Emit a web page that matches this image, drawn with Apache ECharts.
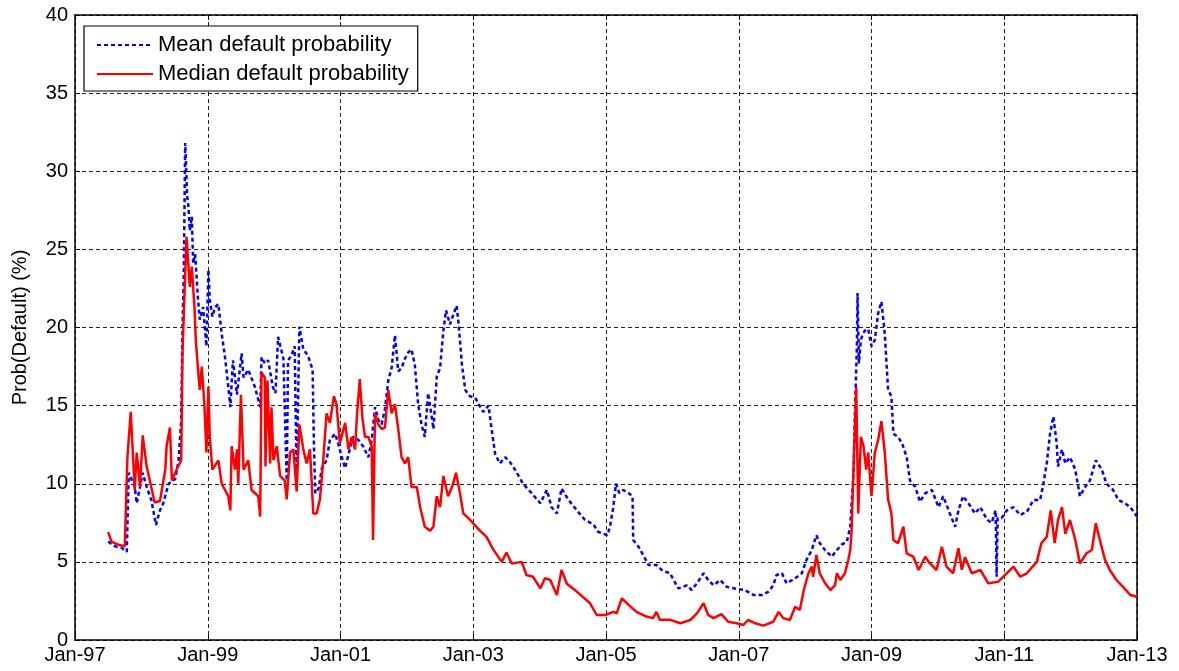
<!DOCTYPE html>
<html>
<head>
<meta charset="utf-8">
<script src="https://cdn.jsdelivr.net/npm/echarts@6/dist/echarts.min.js"></script>
<style>
html,body{margin:0;padding:0;background:#fff;}
#chart{width:1179px;height:671px;}
</style>
</head>
<body>
<div id="chart"></div>
<script>
// x values are decimal years
const xTicks = [1997, 1999, 2001, 2003, 2005, 2007, 2009, 2011, 2013];
const yTicks = [0, 5, 10, 15, 20, 25, 30, 35, 40];
const seriesNames = ['Mean default probability', 'Median default probability'];

const meanYears = [
  1997.50,1997.60,1997.70,1997.78,1997.81,1997.90,1997.93,1997.98,1998.02,1998.08,
  1998.15,1998.22,1998.28,1998.33,1998.41,1998.51,1998.56,1998.60,1998.62,1998.64,
  1998.66,1998.69,1998.71,1998.73,1998.76,1998.78,1998.81,1998.85,1998.88,1998.93,
  1998.98,1999.01,1999.03,1999.07,1999.11,1999.16,1999.21,1999.26,1999.31,1999.34,
  1999.38,1999.44,1999.51,1999.54,1999.61,1999.71,1999.79,1999.81,1999.86,1999.91,
  1999.98,2000.02,2000.06,2000.14,2000.19,2000.21,2000.26,2000.31,2000.34,2000.38,
  2000.44,2000.51,2000.58,2000.60,2000.62,2000.67,2000.72,2000.79,2000.84,2000.92,
  2000.97,2001.02,2001.07,2001.14,2001.19,2001.27,2001.34,2001.42,2001.47,2001.52,
  2001.57,2001.62,2001.67,2001.72,2001.77,2001.82,2001.87,2001.92,2001.97,2002.02,
  2002.07,2002.12,2002.17,2002.22,2002.27,2002.32,2002.37,2002.40,2002.45,2002.50,
  2002.55,2002.59,2002.65,2002.69,2002.75,2002.78,2002.83,2002.88,2002.95,2003.03,
  2003.08,2003.15,2003.23,2003.28,2003.33,2003.40,2003.48,2003.55,2003.63,2003.75,
  2003.88,2004.01,2004.11,2004.18,2004.26,2004.33,2004.43,2004.56,2004.68,2004.81,
  2004.88,2005.02,2005.06,2005.11,2005.15,2005.20,2005.26,2005.34,2005.40,2005.41,
  2005.49,2005.56,2005.64,2005.76,2005.86,2005.96,2006.09,2006.22,2006.29,2006.37,
  2006.47,2006.54,2006.62,2006.72,2006.82,2006.94,2007.09,2007.22,2007.35,2007.45,
  2007.52,2007.57,2007.65,2007.72,2007.85,2007.95,2008.02,2008.10,2008.17,2008.22,
  2008.30,2008.40,2008.48,2008.55,2008.63,2008.68,2008.70,2008.73,2008.75,2008.78,
  2008.79,2008.81,2008.84,2008.87,2008.90,2008.95,2009.00,2009.05,2009.10,2009.15,
  2009.20,2009.25,2009.30,2009.33,2009.40,2009.46,2009.53,2009.58,2009.66,2009.73,
  2009.81,2009.91,2010.01,2010.08,2010.18,2010.26,2010.31,2010.38,2010.46,2010.56,
  2010.64,2010.74,2010.81,2010.87,2010.885,2010.90,2010.96,2011.04,2011.14,2011.24,
  2011.34,2011.44,2011.54,2011.59,2011.64,2011.69,2011.74,2011.79,2011.81,2011.87,
  2011.92,2011.99,2012.07,2012.14,2012.22,2012.29,2012.38,2012.47,2012.54,2012.64,
  2012.72,2012.82,2012.90,2013.00
];
const meanValues = [
  6.3,6.0,5.9,5.65,10.7,9.8,8.75,9.8,10.7,9.8,
  8.96,7.36,8.3,8.75,10.0,10.3,11.5,14.1,20.05,23.7,
  31.8,28.4,27.7,26.2,27.1,24.1,24.7,22.0,20.5,21.3,
  18.8,23.7,21.8,20.7,21.3,21.5,19.6,18.1,16.2,14.9,
  17.9,15.7,18.35,16.8,17.3,16.2,14.9,18.1,17.7,17.9,
  16.2,15.8,19.4,18.0,10.2,17.9,18.2,18.8,10.2,20.05,
  18.6,18.2,17.3,12.4,9.4,9.7,11.0,11.5,12.8,13.2,
  12.5,11.7,11.0,12.2,13.0,12.8,12.4,11.7,12.8,14.9,
  14.1,13.8,14.8,16.6,17.4,19.5,17.2,17.4,18.0,18.4,
  18.6,17.6,15.1,13.8,13.0,15.8,14.4,13.5,16.85,17.4,
  19.8,21.1,20.2,20.7,21.4,20.2,17.6,16.0,15.6,15.5,
  15.1,14.6,15.0,13.4,11.9,11.3,11.7,11.4,10.9,10.0,
  9.4,8.75,9.6,8.5,8.1,9.7,9.0,8.3,7.7,7.4,
  6.93,6.7,7.25,8.5,10.0,9.4,9.6,9.4,9.2,6.4,
  5.97,5.44,4.8,4.8,4.4,4.3,3.3,3.5,3.2,3.63,
  4.27,3.84,3.5,3.84,3.4,3.3,3.2,2.88,2.88,3.1,
  3.5,4.16,4.27,3.63,3.95,4.27,5.12,5.76,6.7,6.2,
  5.76,5.33,5.76,6.1,6.3,7.25,8.75,10.7,14.5,18.8,
  22.2,17.7,19.2,19.6,19.8,19.9,18.8,19.2,20.9,21.65,
  19.6,16.0,15.6,13.2,13.0,12.6,11.7,10.2,9.8,8.85,
  9.4,9.6,8.5,9.2,8.1,7.25,8.3,9.2,8.75,8.1,
  8.5,7.7,7.5,8.3,4.05,7.8,7.8,8.3,8.5,8.0,
  8.2,8.96,8.96,10.0,11.3,13.2,14.3,12.6,11.1,12.2,
  11.3,11.7,10.9,9.2,9.8,10.2,11.5,10.9,10.0,9.6,
  8.96,8.75,8.5,7.9
];

const medianYears = [
  1997.50,1997.55,1997.65,1997.75,1997.78,1997.79,1997.84,1997.90,1997.93,1997.98,
  1998.02,1998.08,1998.20,1998.28,1998.36,1998.38,1998.43,1998.46,1998.53,1998.60,
  1998.62,1998.65,1998.68,1998.73,1998.76,1998.80,1998.82,1998.85,1998.88,1998.91,
  1998.95,1998.98,1999.01,1999.03,1999.07,1999.16,1999.21,1999.31,1999.34,1999.36,
  1999.41,1999.44,1999.46,1999.50,1999.54,1999.61,1999.66,1999.76,1999.79,1999.81,
  1999.86,1999.87,1999.90,1999.94,1999.96,1999.99,2000.04,2000.09,2000.16,2000.19,
  2000.24,2000.29,2000.34,2000.38,2000.44,2000.49,2000.54,2000.59,2000.64,2000.69,
  2000.74,2000.79,2000.84,2000.90,2000.94,2000.99,2001.07,2001.12,2001.17,2001.22,
  2001.25,2001.29,2001.33,2001.37,2001.42,2001.47,2001.49,2001.52,2001.57,2001.62,
  2001.67,2001.72,2001.77,2001.82,2001.87,2001.92,2001.97,2002.02,2002.07,2002.15,
  2002.20,2002.27,2002.35,2002.40,2002.45,2002.50,2002.55,2002.62,2002.69,2002.74,
  2002.80,2002.85,2002.95,2002.98,2003.10,2003.20,2003.30,2003.43,2003.50,2003.58,
  2003.73,2003.80,2003.90,2004.01,2004.08,2004.16,2004.26,2004.33,2004.41,2004.56,
  2004.76,2004.86,2004.99,2005.11,2005.16,2005.24,2005.34,2005.46,2005.61,2005.71,
  2005.76,2005.81,2005.96,2006.12,2006.27,2006.37,2006.47,2006.54,2006.62,2006.74,
  2006.84,2006.97,2007.07,2007.14,2007.25,2007.37,2007.52,2007.60,2007.67,2007.77,
  2007.85,2007.92,2007.98,2008.05,2008.10,2008.12,2008.17,2008.22,2008.30,2008.38,
  2008.45,2008.48,2008.53,2008.60,2008.65,2008.68,2008.70,2008.73,2008.77,2008.80,
  2008.84,2008.88,2008.92,2008.95,2009.00,2009.05,2009.10,2009.15,2009.20,2009.25,
  2009.30,2009.33,2009.40,2009.48,2009.53,2009.63,2009.71,2009.81,2009.88,2009.98,
  2010.06,2010.13,2010.23,2010.31,2010.36,2010.41,2010.51,2010.64,2010.76,2010.91,
  2011.14,2011.24,2011.34,2011.49,2011.56,2011.64,2011.70,2011.76,2011.81,2011.87,
  2011.92,2011.99,2012.07,2012.14,2012.24,2012.32,2012.38,2012.44,2012.52,2012.59,
  2012.69,2012.79,2012.90,2013.00
];
const medianValues = [
  6.9,6.3,6.1,6.0,5.9,11.7,14.6,9.6,12.0,9.8,
  13.1,11.1,8.8,8.9,10.9,12.4,13.6,10.2,10.9,11.5,
  18.4,22.2,25.8,22.6,23.9,21.3,19.2,17.5,16.0,17.5,
  15.0,12.0,16.2,13.0,10.9,11.5,10.0,9.2,8.3,12.4,
  10.9,12.2,10.0,15.7,10.9,11.5,9.6,9.2,7.9,17.1,
  16.8,11.1,16.6,11.3,14.9,11.5,12.4,10.5,10.2,9.0,
  12.0,12.2,9.5,13.8,12.2,11.3,12.2,8.1,8.1,9.0,
  11.5,14.5,13.9,15.6,15.1,12.6,13.9,12.2,13.0,12.2,
  14.5,16.7,14.2,13.0,13.0,12.4,6.4,14.5,13.8,13.5,
  13.6,16.0,14.5,15.1,13.5,11.7,11.3,11.7,9.8,9.8,
  8.5,7.25,7.0,7.25,9.2,8.5,10.5,9.2,9.9,10.7,
  9.4,8.1,7.7,7.7,7.0,6.6,5.8,5.0,5.6,4.9,
  5.0,4.16,4.05,3.3,3.95,3.84,2.88,4.48,3.6,3.1,
  2.35,1.6,1.6,1.8,1.7,2.67,2.25,1.8,1.5,1.4,
  1.8,1.3,1.3,1.07,1.28,1.7,2.35,1.6,1.4,1.66,
  1.17,1.07,0.96,1.28,1.07,0.92,1.17,1.8,1.4,1.28,
  2.13,1.92,3.2,4.27,4.7,4.05,5.44,4.27,3.63,3.2,
  3.5,4.27,3.84,4.27,5.12,5.76,7.0,11.1,16.2,8.1,
  13.0,12.4,10.9,12.0,9.2,12.0,12.8,14.0,12.0,9.0,
  8.1,6.4,6.2,7.25,5.55,5.33,4.48,5.33,4.9,4.48,
  5.97,4.7,4.27,5.87,4.5,5.3,4.27,4.48,3.63,3.73,
  4.7,4.05,4.27,5.0,6.2,6.6,8.3,6.2,7.68,8.5,
  6.8,7.68,6.4,4.9,5.55,5.76,7.47,6.4,5.1,4.48,
  3.84,3.4,2.88,2.77
];

function zip(xs, ys) { return xs.map((x, i) => [x, ys[i]]); }

const FONT = 'Liberation Sans, Arial, sans-serif';
const chart = echarts.init(document.getElementById('chart'), null, {renderer: 'canvas'});

const gridLine = {show: true, lineStyle: {color: '#222', type: [4, 3], width: 1}};
const axisLine = {show: true, onZero: false, lineStyle: {color: '#000', width: 1.5}};
const tick = {show: true, inside: true, length: 5, lineStyle: {color: '#000', width: 1}};

chart.setOption({
  animation: false,
  backgroundColor: '#fff',
  grid: {left: 75, right: 42, top: 15, bottom: 31, containLabel: false},
  legend: {
    data: seriesNames,
    orient: 'vertical',
    left: 84, top: 26,
    padding: [8, 9, 6, 12],
    itemWidth: 56, itemHeight: 14, itemGap: 7,
    backgroundColor: '#fff',
    borderColor: '#000', borderWidth: 1.2, borderRadius: 0,
    itemStyle: {opacity: 0},
    textStyle: {fontFamily: FONT, fontSize: 22, color: '#000', lineHeight: 22}
  },
  xAxis: [{
    type: 'value', min: xTicks[0], max: xTicks[xTicks.length - 1], interval: 2,
    axisLine: axisLine, axisTick: tick, splitLine: gridLine,
    axisLabel: {fontFamily: FONT, fontSize: 20, color: '#000', margin: 5,
      formatter: v => 'Jan-' + String(v).slice(2)}
  }, {
    type: 'value', position: 'top', min: xTicks[0], max: xTicks[xTicks.length - 1], interval: 2,
    axisLine: axisLine, axisTick: tick, splitLine: {show: false}, axisLabel: {show: false}
  }],
  yAxis: [{
    type: 'value', min: yTicks[0], max: yTicks[yTicks.length - 1], interval: 5,
    name: 'Prob(Default) (%)', nameLocation: 'middle', nameGap: 45,
    nameTextStyle: {fontFamily: FONT, fontSize: 20, color: '#000'},
    axisLine: axisLine, axisTick: tick, splitLine: gridLine,
    axisLabel: {fontFamily: FONT, fontSize: 20, color: '#000', margin: 7}
  }, {
    type: 'value', position: 'right', min: yTicks[0], max: yTicks[yTicks.length - 1], interval: 5,
    axisLine: axisLine, axisTick: tick, splitLine: {show: false}, axisLabel: {show: false}
  }],
  series: [{
    name: seriesNames[0], type: 'line', symbol: 'none', showSymbol: false,
    data: zip(meanYears, meanValues),
    lineStyle: {color: '#0000ff', width: 2.5, type: [4, 3]},
    itemStyle: {color: '#0000ff'}
  }, {
    name: seriesNames[1], type: 'line', symbol: 'none', showSymbol: false,
    data: zip(medianYears, medianValues),
    lineStyle: {color: '#ff0000', width: 2.5},
    itemStyle: {color: '#ff0000'}
  }]
});
</script>
</body>
</html>
